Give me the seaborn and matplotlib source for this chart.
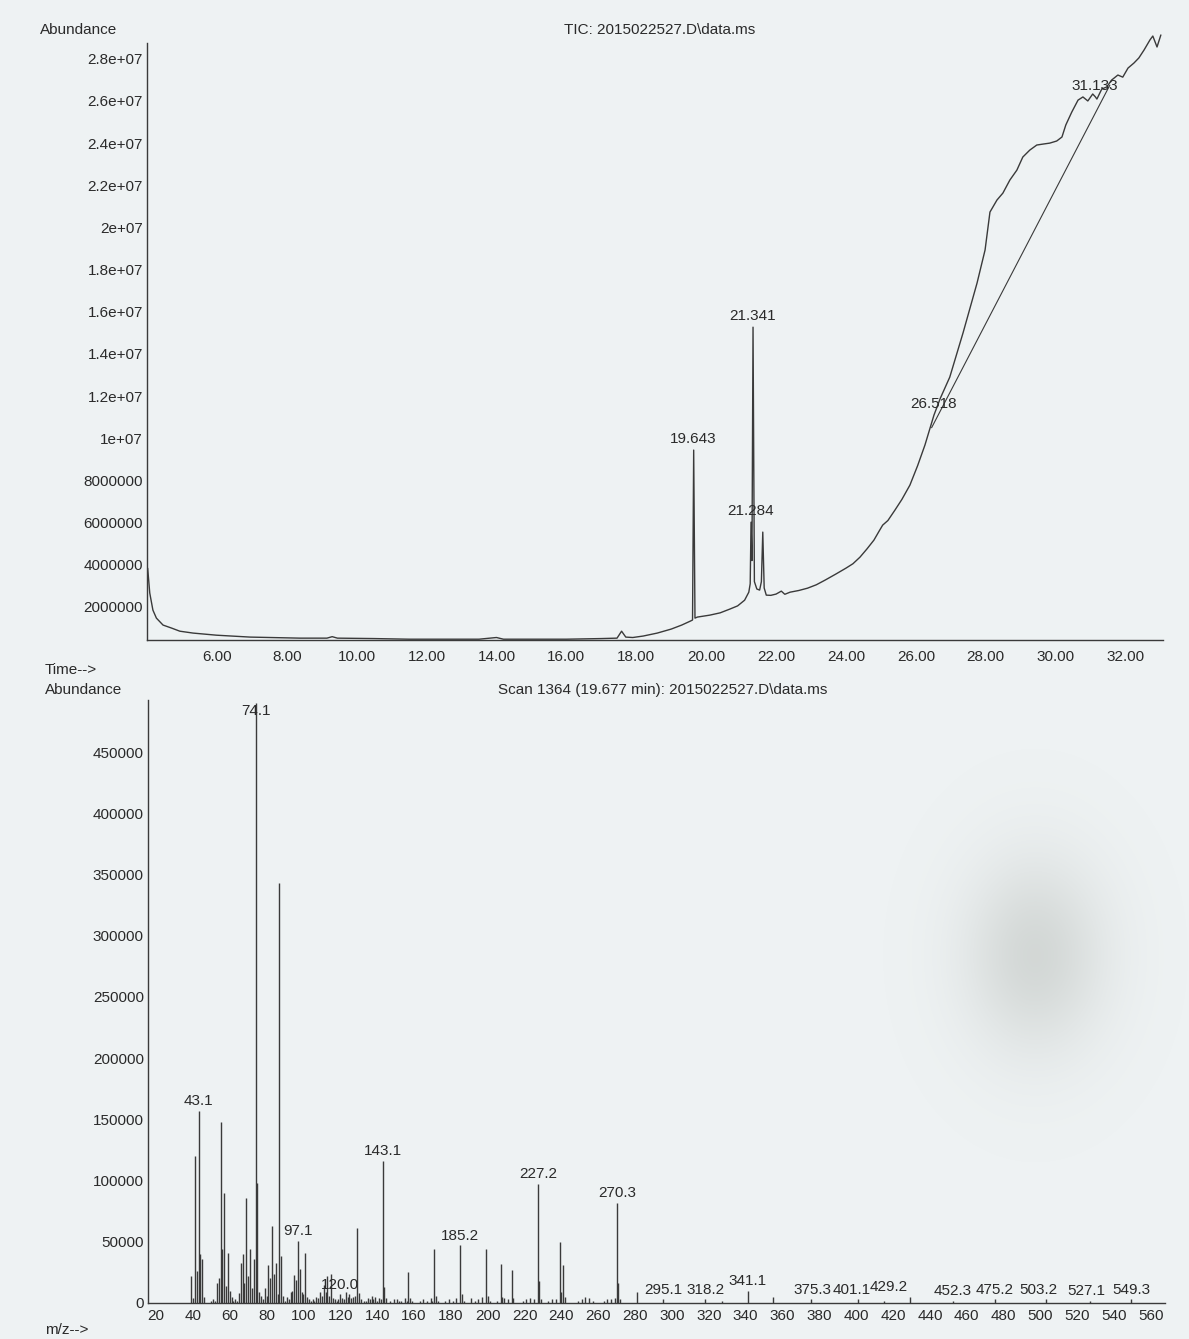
import matplotlib
matplotlib.use("Agg")
import matplotlib.pyplot as plt
import seaborn as sns
import numpy as np
import pandas as pd
from matplotlib.ticker import MultipleLocator, FixedLocator, FixedFormatter

# ---------------- Total ion chromatogram ----------------
tic_time = [4.02, 4.08, 4.17, 4.27, 4.46, 4.70, 4.94, 5.32, 5.99, 6.95,
            8.38, 9.15, 9.30, 9.45, 10.5, 11.5, 12.5, 13.5, 14.0, 14.2,
            15.0, 16.0, 17.0, 17.45, 17.58, 17.70, 17.9, 18.2, 18.6, 19.0,
            19.3, 19.55, 19.61, 19.643, 19.68, 19.75, 20.1, 20.4, 20.68, 20.9,
            21.1, 21.22, 21.26, 21.284, 21.31, 21.341, 21.38, 21.45, 21.53, 21.58,
            21.62, 21.66, 21.72, 21.85, 22.0, 22.15, 22.25, 22.4, 22.65, 22.9,
            23.15, 23.4, 23.7, 24.0, 24.2, 24.4, 24.6, 24.8, 24.95, 25.05,
            25.2, 25.4, 25.6, 25.83, 26.05, 26.26, 26.518, 26.7, 26.97, 27.35,
            27.75, 27.98, 28.12, 28.32, 28.49, 28.69, 28.89, 29.06, 29.26, 29.46,
            29.66, 29.83, 30.03, 30.18, 30.29, 30.46, 30.64, 30.78, 30.92, 31.06,
            31.133, 31.18, 31.32, 31.46, 31.6, 31.78, 31.92, 32.07, 32.24, 32.38,
            32.53, 32.7, 32.78, 32.9, 33.01]
tic_abundance = [3.84e6, 2.66e6, 1.85e6, 1.47e6, 1.14e6, 1.00e6, 0.85e6, 0.76e6, 0.66e6, 0.57e6,
                 0.52e6, 0.52e6, 0.59e6, 0.52e6, 0.50e6, 0.47e6, 0.47e6, 0.47e6, 0.55e6, 0.47e6,
                 0.47e6, 0.47e6, 0.50e6, 0.52e6, 0.85e6, 0.57e6, 0.55e6, 0.62e6, 0.76e6, 0.95e6,
                 1.14e6, 1.33e6, 1.38e6, 9.44e6, 1.47e6, 1.52e6, 1.61e6, 1.72e6, 1.90e6, 2.05e6,
                 2.32e6, 2.70e6, 3.10e6, 6.02e6, 4.20e6, 15.27e6, 3.20e6, 2.85e6, 2.80e6, 3.20e6,
                 5.55e6, 2.90e6, 2.56e6, 2.55e6, 2.61e6, 2.75e6, 2.60e6, 2.70e6, 2.78e6, 2.89e6,
                 3.05e6, 3.27e6, 3.55e6, 3.84e6, 4.05e6, 4.36e6, 4.75e6, 5.17e6, 5.60e6, 5.88e6,
                 6.10e6, 6.59e6, 7.10e6, 7.78e6, 8.70e6, 9.68e6, 11.1e6, 11.9e6, 12.9e6, 15.0e6,
                 17.36e6, 18.93e6, 20.73e6, 21.3e6, 21.63e6, 22.25e6, 22.72e6, 23.34e6, 23.67e6, 23.91e6,
                 23.96e6, 24.0e6, 24.1e6, 24.29e6, 24.86e6, 25.47e6, 26.04e6, 26.19e6, 26.0e6, 26.33e6,
                 26.2e6, 26.09e6, 26.57e6, 26.66e6, 26.99e6, 27.23e6, 27.13e6, 27.56e6, 27.8e6, 28.04e6,
                 28.42e6, 28.9e6, 29.08e6, 28.56e6, 29.13e6]

# integration baseline drawn under the late hump
baseline_time = [26.45, 31.55]
baseline_abundance = [10.5e6, 26.75e6]

tic_peak_labels = [19.643, 21.284, 21.341, 26.518, 31.133]
tic_xticks = [6, 8, 10, 12, 14, 16, 18, 20, 22, 24, 26, 28, 30, 32]
tic_yticks = [2e6, 4e6, 6e6, 8e6, 1e7, 1.2e7, 1.4e7, 1.6e7, 1.8e7, 2e7, 2.2e7, 2.4e7, 2.6e7, 2.8e7]
tic_ytick_labels = ["2000000", "4000000", "6000000", "8000000", "1e+07", "1.2e+07", "1.4e+07",
                    "1.6e+07", "1.8e+07", "2e+07", "2.2e+07", "2.4e+07", "2.6e+07", "2.8e+07"]

# ---------------- Mass spectrum, scan 1364 ----------------
ms_mz = [39, 40, 41, 42, 43.1, 44, 45, 46, 50, 51, 52, 53, 54, 55, 56, 57, 58, 59, 60, 61,
         62, 63, 64, 65, 66, 67, 68, 69, 70, 71, 72, 73, 74.1, 75, 76, 77, 78, 79, 80, 81,
         82, 83, 84, 85, 86, 87, 88, 89, 90, 91, 92, 93, 94, 95, 96, 97.1, 98, 99, 100, 101,
         102, 103, 104, 105, 106, 107, 108, 109, 110, 111, 112, 113, 114, 115, 116, 117, 118, 119, 120.0, 121,
         122, 123, 124, 125, 126, 127, 128, 129, 130, 131, 133, 134, 135, 136, 137, 138, 139, 140, 141, 142,
         143.1, 144, 145, 147, 149, 151, 152, 153, 155, 156, 157, 158, 159, 163, 165, 167, 169, 170, 171, 172,
         173, 177, 179, 181, 183, 185.2, 186, 187, 191, 193, 195, 197, 199, 200, 201, 205, 207, 208, 209, 211,
         213, 214, 219, 221, 223, 225, 227.2, 228, 229, 233, 235, 237, 239, 240, 241, 242, 249, 251, 253, 255,
         257, 263, 265, 267, 269, 270.3, 271, 272, 281, 295.1, 318.2, 327, 341.1, 355, 375.3, 401.1, 415, 429.2,
         452.3, 475.2, 503.2, 527.1, 549.3]
ms_abundance = [22000, 4000, 120000, 26000, 157000, 40000, 36000, 5000, 2000, 3000, 2000, 16000, 20000, 148000, 44000, 90000, 14000, 41000, 10000, 5000,
                2000, 3000, 2000, 8000, 33000, 40000, 16000, 86000, 22000, 44000, 12000, 36000, 490000, 98000, 9000, 6000, 3000, 12000, 6000, 31000,
                20000, 63000, 24000, 33000, 7000, 343000, 38000, 6000, 2000, 5000, 3000, 9000, 10000, 23000, 19000, 51000, 28000, 9000, 7000, 41000,
                5000, 3000, 2000, 3000, 2000, 5000, 4000, 9000, 6000, 15000, 9000, 22000, 6000, 24000, 4000, 3000, 2000, 3000, 7000, 4000,
                3000, 9000, 5000, 7000, 4000, 5000, 6000, 61000, 8000, 3000, 2000, 2000, 4000, 3000, 6000, 3000, 5000, 2000, 4000, 3000,
                116000, 13000, 4000, 2000, 3000, 3000, 2000, 2000, 4000, 2000, 25000, 4000, 2000, 2000, 3000, 2000, 4000, 2000, 44000, 6000,
                2000, 2000, 3000, 2000, 4000, 47000, 7000, 2000, 4000, 2000, 3000, 5000, 44000, 6000, 2000, 2000, 32000, 5000, 4000, 3000,
                27000, 4000, 2000, 3000, 4000, 3000, 97000, 18000, 3000, 2000, 3000, 3000, 50000, 9000, 31000, 5000, 2000, 3000, 5000, 4000,
                2000, 2000, 3000, 3000, 4000, 82000, 16000, 3000, 9000, 3000, 3000, 2000, 10000, 5000, 3000, 3000, 2000, 5000,
                2000, 3000, 3000, 2000, 3000]
ms_peak_labels = [43.1, 74.1, 97.1, 120.0, 143.1, 185.2, 227.2, 270.3, 295.1, 318.2, 341.1,
                  375.3, 401.1, 429.2, 452.3, 475.2, 503.2, 527.1, 549.3]
ms_yticks = [0, 50000, 100000, 150000, 200000, 250000, 300000, 350000, 400000, 450000]
ms_xticks = list(range(20, 561, 20))

# ---------------- styling ----------------
sns.set_theme(style="white")
paper = "#eef2f3"
ink = "#3a3a3a"
text_ink = "#2a2a2a"
plt.rcParams["font.family"] = ["Liberation Sans", "DejaVu Sans"]
plt.rcParams["font.size"] = 11

fig = plt.figure(figsize=(11.89, 13.39), dpi=100, facecolor=paper)

# soft grey stain on the paper, lower right
bg = fig.add_axes([0, 0, 1, 1], zorder=-5)
bg.set_axis_off()
gy, gx = np.mgrid[0:1339, 0:1189]
stain = np.exp(-(((gx - 1035) / 70.0) ** 2 + ((gy - 955) / 95.0) ** 2))
rgba = np.zeros((1339, 1189, 4))
rgba[..., :3] = np.array([0.70, 0.72, 0.70])
rgba[..., 3] = 0.45 * stain
bg.imshow(rgba, extent=(0, 1189, 1339, 0), aspect="auto", interpolation="bilinear")
bg.set_xlim(0, 1189)
bg.set_ylim(1339, 0)

ax_tic = fig.add_axes([0.1236, 0.5220, 0.8545, 0.4459])
ax_ms = fig.add_axes([0.1245, 0.0269, 0.8553, 0.4503])

for ax in (ax_tic, ax_ms):
    ax.set_facecolor("none")
    for side in ("top", "right"):
        ax.spines[side].set_visible(False)
    for side in ("left", "bottom"):
        ax.spines[side].set_color(ink)
        ax.spines[side].set_linewidth(1.0)
    ax.tick_params(colors=ink, labelcolor=text_ink, labelsize=11)
    ax.grid(False)

# chromatogram trace
tic_df = pd.DataFrame({"time": tic_time, "abundance": tic_abundance})
sns.lineplot(data=tic_df, x="time", y="abundance", ax=ax_tic, color=ink,
             linewidth=1.0, sort=False, estimator=None)
for ln in ax_tic.get_lines():
    ln.set_clip_on(False)
base_df = pd.DataFrame({"time": baseline_time, "abundance": baseline_abundance})
sns.lineplot(data=base_df, x="time", y="abundance", ax=ax_tic, color=ink,
             linewidth=0.8, sort=False, estimator=None)

for t in tic_peak_labels:
    h = tic_abundance[tic_time.index(t)]
    ax_tic.annotate(f"{t:.3f}", xy=(t, h), xytext=(0, 3), textcoords="offset points",
                    ha="center", va="bottom", fontsize=11, color=text_ink)

ax_tic.set_xlim(4.0, 33.07)
ax_tic.set_ylim(0.43e6, 28.75e6)
ax_tic.xaxis.set_major_locator(FixedLocator(tic_xticks))
ax_tic.set_xticklabels([f"{v:.2f}" for v in tic_xticks])
ax_tic.xaxis.set_minor_locator(MultipleLocator(0.4))
ax_tic.yaxis.set_major_locator(FixedLocator(tic_yticks))
ax_tic.yaxis.set_major_formatter(FixedFormatter(tic_ytick_labels))
ax_tic.tick_params(axis="x", which="major", direction="inout", length=7, width=0.9, pad=4)
ax_tic.tick_params(axis="x", which="minor", direction="inout", length=5, width=0.8, color=ink)
ax_tic.tick_params(axis="y", which="major", direction="out", length=2, width=0.8, pad=1)
ax_tic.set_xlabel("")
ax_tic.set_ylabel("")

# mass spectrum sticks
ms_df = pd.DataFrame({"mz": ms_mz, "abundance": ms_abundance})
ax_ms.vlines(ms_df["mz"], 0, ms_df["abundance"], color=ink, linewidth=1.0)

# labels that the data system nudged sideways to avoid collisions (points)
label_nudge = {375.3: 1, 401.1: -5, 429.2: -15, 503.2: -6, 527.1: -3}

ms_top = 492500
for m in ms_peak_labels:
    h = ms_abundance[ms_mz.index(m)]
    dx = label_nudge.get(m, 0)
    if h > ms_top * 0.95:
        ax_ms.annotate(f"{m:.1f}", xy=(m, ms_top), xytext=(dx, -3), textcoords="offset points",
                       ha="center", va="top", fontsize=11, color=text_ink)
    else:
        ax_ms.annotate(f"{m:.1f}", xy=(m, h), xytext=(dx, 2), textcoords="offset points",
                       ha="center", va="bottom", fontsize=11, color=text_ink)

ax_ms.set_xlim(15.66, 567.6)
ax_ms.set_ylim(0, ms_top)
ax_ms.xaxis.set_major_locator(FixedLocator(ms_xticks))
ax_ms.set_xticklabels([str(v) for v in ms_xticks])
ax_ms.xaxis.set_minor_locator(MultipleLocator(5))
ax_ms.yaxis.set_major_locator(FixedLocator(ms_yticks))
ax_ms.set_yticklabels([str(v) for v in ms_yticks])
ax_ms.tick_params(axis="x", which="major", direction="inout", length=7, width=0.9, pad=1)
ax_ms.tick_params(axis="x", which="minor", direction="inout", length=5, width=0.8, color=ink)
ax_ms.tick_params(axis="y", which="major", direction="out", length=2, width=0.8, pad=1)

# header texts
txt = dict(color=text_ink, fontsize=11)
fig.text(0.0336, 0.9776, "Abundance", ha="left", va="center", **txt)
fig.text(0.555, 0.9776, "TIC: 2015022527.D\\data.ms", ha="center", va="center", **txt)
fig.text(0.0378, 0.4996, "Time-->", ha="left", va="center", **txt)
fig.text(0.0378, 0.4847, "Abundance", ha="left", va="center", **txt)
fig.text(0.557, 0.4847, "Scan 1364 (19.677 min): 2015022527.D\\data.ms", ha="center", va="center", **txt)
fig.text(0.0378, 0.0067, "m/z-->", ha="left", va="center", **txt)

fig.savefig("out.png", dpi=100, facecolor=paper)
